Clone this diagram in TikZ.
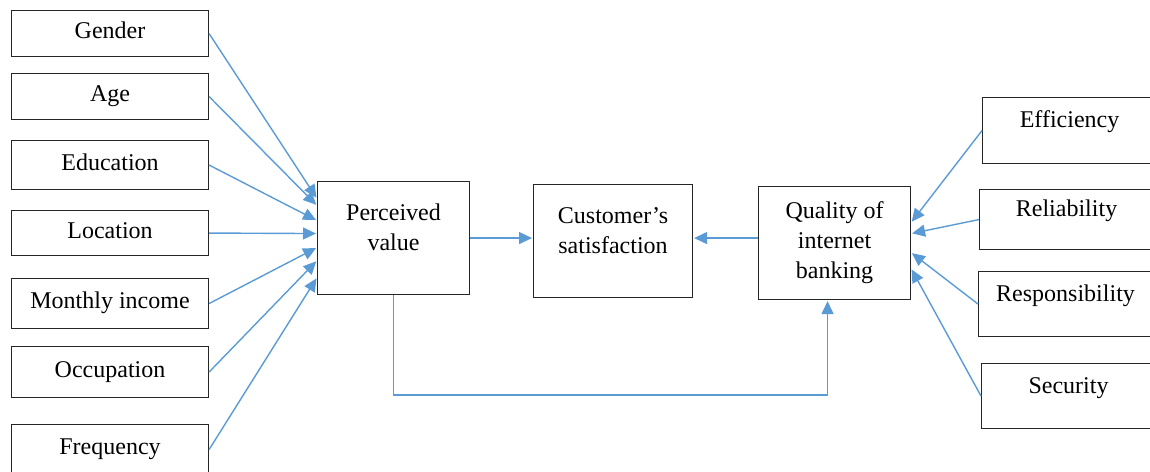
\documentclass[tikz,border=0pt]{standalone}
\usepackage{fontspec}
\setmainfont{Liberation Serif}
\usepackage{xcolor}
\usetikzlibrary{arrows.meta,calc,positioning}

\definecolor{arrowblue}{RGB}{91,155,213}
\newcommand{\diagfont}{\fontsize{24}{30}\selectfont}

\begin{document}
\begin{tikzpicture}[x=1pt,y=-1pt,>={Triangle[length=13pt,width=12pt]},shorten >=1pt]
  \tikzstyle{every node}=[font=\diagfont]
  \tikzstyle{box}=[draw=black!85,line width=1.1pt,anchor=north west,inner sep=0pt]
  \tikzstyle{lbox}=[box,minimum width=197pt,text height=16pt,text depth=6pt]
  \tikzstyle{rbox}=[box,minimum width=174pt,text height=16pt,text depth=22pt]
  \tikzstyle{cbox}=[box,align=center,minimum height=113pt]
  \tikzstyle{link}=[->,color=arrowblue,line width=1.4pt]
  \useasboundingbox (0,0) rectangle (1150,471);
  % left factors
  \node (gen) [lbox,minimum height=46pt] at (11,10) {Gender};
  \node (age) [lbox,minimum height=46pt] at (11,73) {Age};
  \node (edu) [lbox,minimum height=49pt] at (11,140) {Education};
  \node (loc) [lbox,minimum height=45pt] at (11,210) {Location};
  \node (inc) [lbox,minimum height=50pt] at (11,278) {Monthly income};
  \node (occ) [lbox,minimum height=51pt] at (11,346) {Occupation};
  \node (frq) [lbox,minimum height=50pt] at (11,424) {Frequency};
  % middle
  \node (pv) [cbox,minimum width=152pt,text depth=21pt] at (317,181) {Perceived\\value};
  \node (cs) [cbox,minimum width=159pt,text depth=21pt] at (533,184) {Customer’s\\satisfaction};
  \node (q)  [cbox,minimum width=152pt,text depth=7pt] at (758,186) {Quality of\\internet\\banking};
  % right factors
  \node (eff) [rbox,minimum height=66pt] at (982,97) {Efficiency};
  \node (rel) [rbox,minimum height=60pt] at (979,189) {Reliability};
  \node (rsp) [rbox,minimum height=65pt] at (978,271) {Responsibility};
  \node (sec) [rbox,minimum height=65pt] at (981,363) {Security};
  \coordinate (fbk) at (0,395);
  \path[link]
  (gen.east) edge ([yshift=39.5pt]pv.west)
  (age.east) edge ([yshift=32.5pt]pv.west)
  (edu.east) edge ([yshift=17.5pt]pv.west)
  (loc.east) edge ([yshift=4.5pt]pv.west)
  (inc.east) edge ([yshift=-9.5pt]pv.west)
  (occ.east) edge ([yshift=-22.5pt]pv.west)
  (frq.east) edge ([yshift=-39.5pt]pv.west)
  (eff.west) edge ([yshift=20.5pt]q.east)
  (rel.west) edge ([yshift=9.5pt]q.east)
  (rsp.west) edge ([yshift=-9.5pt]q.east)
  (sec.west) edge ([yshift=-25.5pt]q.east)
  ;
  \draw[link] (pv.east) -- (pv.east -| cs.west);
  \draw[link] ([yshift=5pt]q.west) -- ([yshift=5pt]q.west -| cs.east);
  \draw[link] (pv.south) -- (pv.south |- fbk) -| ([xshift=-7pt]q.south);
\end{tikzpicture}
\end{document}
